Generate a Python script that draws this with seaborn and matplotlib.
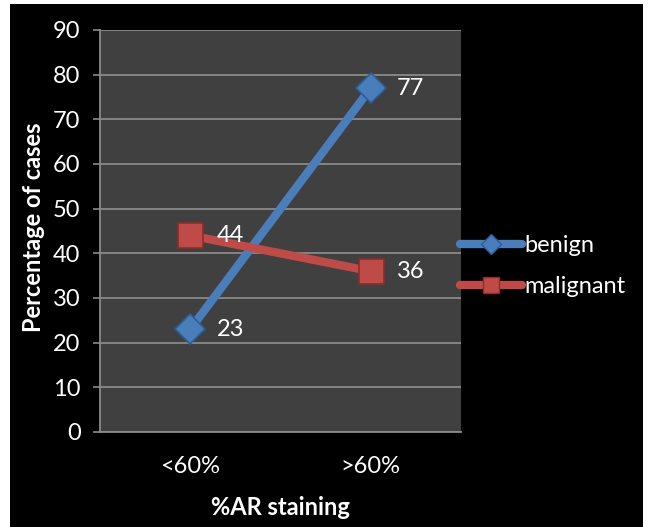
import matplotlib
matplotlib.use("Agg")
import matplotlib.pyplot as plt
import matplotlib.patches as mpatches
from matplotlib.lines import Line2D
import seaborn as sns
import pandas as pd

categories = ["<60%", ">60%"]
benign = [23, 77]
malignant = [44, 36]
series_names = ["benign", "malignant"]
colors = {"benign": "#4A7EBB", "malignant": "#BE4B48"}
edge_colors = {"benign": "#2C5D95", "malignant": "#8C2D2A"}
markers = {"benign": "D", "malignant": "s"}

sns.set_style("dark")
plt.rcParams["font.family"] = ["Lato", "DejaVu Sans"]

df = pd.DataFrame({
    "AR": categories * 2,
    "pct": benign + malignant,
    "group": [series_names[0]] * 2 + [series_names[1]] * 2,
})

fig = plt.figure(figsize=(6.5, 5.27), dpi=100, facecolor="white")
# black chart area inside a thin white border
fig.patches.append(mpatches.Rectangle((10 / 650, 0), 633 / 650, 523 / 527,
                                      transform=fig.transFigure, facecolor="black",
                                      edgecolor="none", zorder=-10))
ax = fig.add_axes([100 / 650, 1 - 432 / 527, 361 / 650, 402 / 527])
ax.set_facecolor("#404040")

sns.lineplot(df, x="AR", y="pct", hue="group", style="group", palette=colors,
             markers=markers, dashes=False, linewidth=6, markersize=15,
             legend=False, ax=ax, zorder=3)
for i, line in enumerate(ax.lines):
    name = series_names[i]
    line.set_markeredgecolor(edge_colors[name])
    line.set_markeredgewidth(1.2)
    line.set_solid_capstyle("butt")
ax.lines[1].set_markersize(18)

for vals in (benign, malignant):
    for i, v in enumerate(vals):
        ax.annotate(str(v), (i, v), xytext=(19, 0), textcoords="offset points",
                    color="white", fontsize=17, va="center", ha="left", zorder=5)

ax.set_xlim(-0.5, 1.5)
ax.set_ylim(0, 90)
ax.set_yticks(range(0, 91, 10))
ax.set_xticks([0, 1])
ax.set_xticklabels(categories)
ax.set_xticks([-0.5, 0.5, 1.5], minor=True)
ax.tick_params(axis="x", which="major", length=0, pad=17, labelsize=17, colors="white")
ax.tick_params(axis="x", which="minor", length=5, width=1.2, color="#8a8a8a")
ax.tick_params(axis="y", length=5, width=1.2, color="#8a8a8a", labelsize=17,
               labelcolor="white", pad=9, left=True)
ax.grid(axis="y", color="#8a8a8a", linewidth=1.3)
ax.grid(axis="x", visible=False)
for side in ("top", "right"):
    ax.spines[side].set_visible(False)
for side in ("left", "bottom"):
    ax.spines[side].set_visible(True)
    ax.spines[side].set_color("#8a8a8a")
    ax.spines[side].set_linewidth(1.3)

ax.set_xlabel("%AR staining", color="white", fontsize=17, fontweight="bold")
ax.set_ylabel("Percentage of cases", color="white", fontsize=17, fontweight="bold")
ax.xaxis.set_label_coords(0.5, -0.158)
ax.yaxis.set_label_coords(-0.153, 0.509)

handles = [Line2D([], [], color=colors[n], lw=6, marker=markers[n],
                  markersize=10 if n == "benign" else 12,
                  markerfacecolor=colors[n], markeredgecolor=edge_colors[n],
                  solid_capstyle="round") for n in series_names]
leg = fig.legend(handles, series_names, loc="center left",
                 bbox_to_anchor=(439 / 650, 1 - 266 / 527), frameon=False,
                 fontsize=17, labelcolor="white", handlelength=2.6,
                 handletextpad=0.1, labelspacing=0.85, borderpad=0.4)

fig.savefig("out.png", dpi=100, facecolor=fig.get_facecolor())
